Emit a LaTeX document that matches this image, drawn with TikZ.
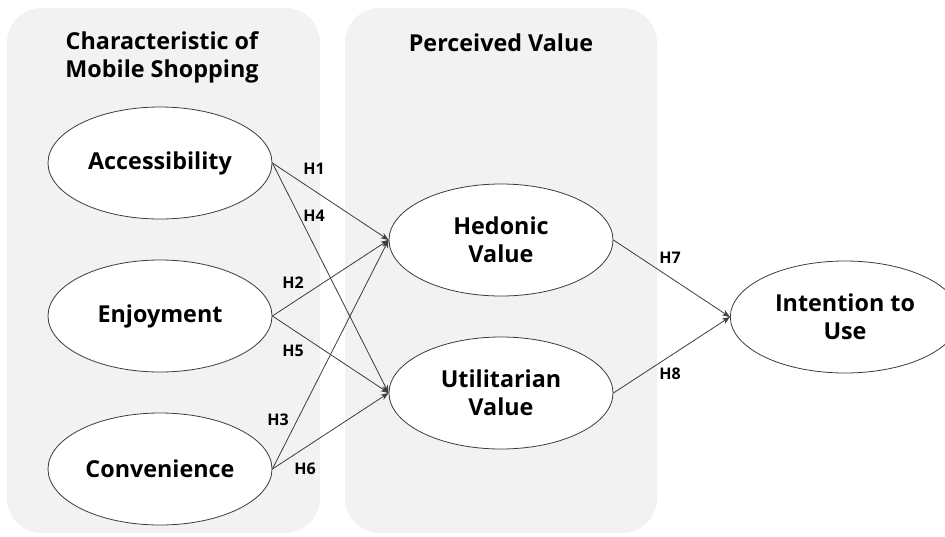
\documentclass[tikz,border=0pt]{standalone}
\usepackage{fontspec}
\setmainfont{Open Sans}
\usetikzlibrary{shapes.geometric,arrows.meta}
\definecolor{panelgray}{RGB}{242,242,242}
\definecolor{linegray}{RGB}{60,60,60}

\begin{document}
\begin{tikzpicture}[x=0.75pt,y=0.75pt,yscale=-1,xscale=1,
    construct/.style={ellipse,draw=linegray,line width=0.6pt,fill=white,minimum width=168pt,minimum height=84pt,inner sep=0pt,align=center,font=\fontsize{17.5}{21}\selectfont\bfseries},
    paneltitle/.style={align=center,font=\fontsize{17.5}{21}\selectfont\bfseries},
    hyp/.style={font=\fontsize{12}{14}\selectfont\bfseries},
    path/.style={draw=linegray,line width=0.6pt,-{Stealth[length=6pt,width=4.5pt]}}]
            \useasboundingbox (0,0) rectangle (945,536);
            %Rounded Rect [id:panelleft]
            \fill [panelgray, rounded corners=26pt] (7,8) rectangle (320,533);
            %Rounded Rect [id:panelmid]
            \fill [panelgray, rounded corners=26pt] (345,8) rectangle (657,533);
            % Titles
            \node [paneltitle] (tchar) at (162,57) {Characteristic of\\Mobile Shopping};
            \node [paneltitle] (tperc) at (501,43) {Perceived Value};
            % Ellipses
            \node [construct] (access) at (160,163) {Accessibility};
            \node [construct] (enjoy) at (160,316) {Enjoyment};
            \node [construct] (conven) at (160,469) {Convenience};
            \node [construct] (hedonic) at (501,240) {Hedonic\\Value};
            \node [construct] (utilit) at (501,393) {Utilitarian\\Value};
            \node [construct, minimum width=172pt] (intent) at (845,317) {Intention to\\Use};
            % Straight Lines
            \draw [path] (access.east) -- (hedonic.west);
            \draw [path] (access.east) -- (utilit.west);
            \draw [path] (enjoy.east) -- (hedonic.west);
            \draw [path] (enjoy.east) -- (utilit.west);
            \draw [path] (conven.east) -- (hedonic.west);
            \draw [path] (conven.east) -- (utilit.west);
            \draw [path] (hedonic.east) -- (intent.west);
            \draw [path] (utilit.east) -- (intent.west);
            % Labels
            \node [hyp] (h1) at (314,169) {H1};
            \node [hyp] (h4) at (314,216) {H4};
            \node [hyp] (h2) at (293,283) {H2};
            \node [hyp] (h5) at (293,351) {H5};
            \node [hyp] (h3) at (278,420) {H3};
            \node [hyp] (h6) at (305,469) {H6};
            \node [hyp] (h7) at (670,258) {H7};
            \node [hyp] (h8) at (670,374) {H8};
        \end{tikzpicture}
\end{document}
